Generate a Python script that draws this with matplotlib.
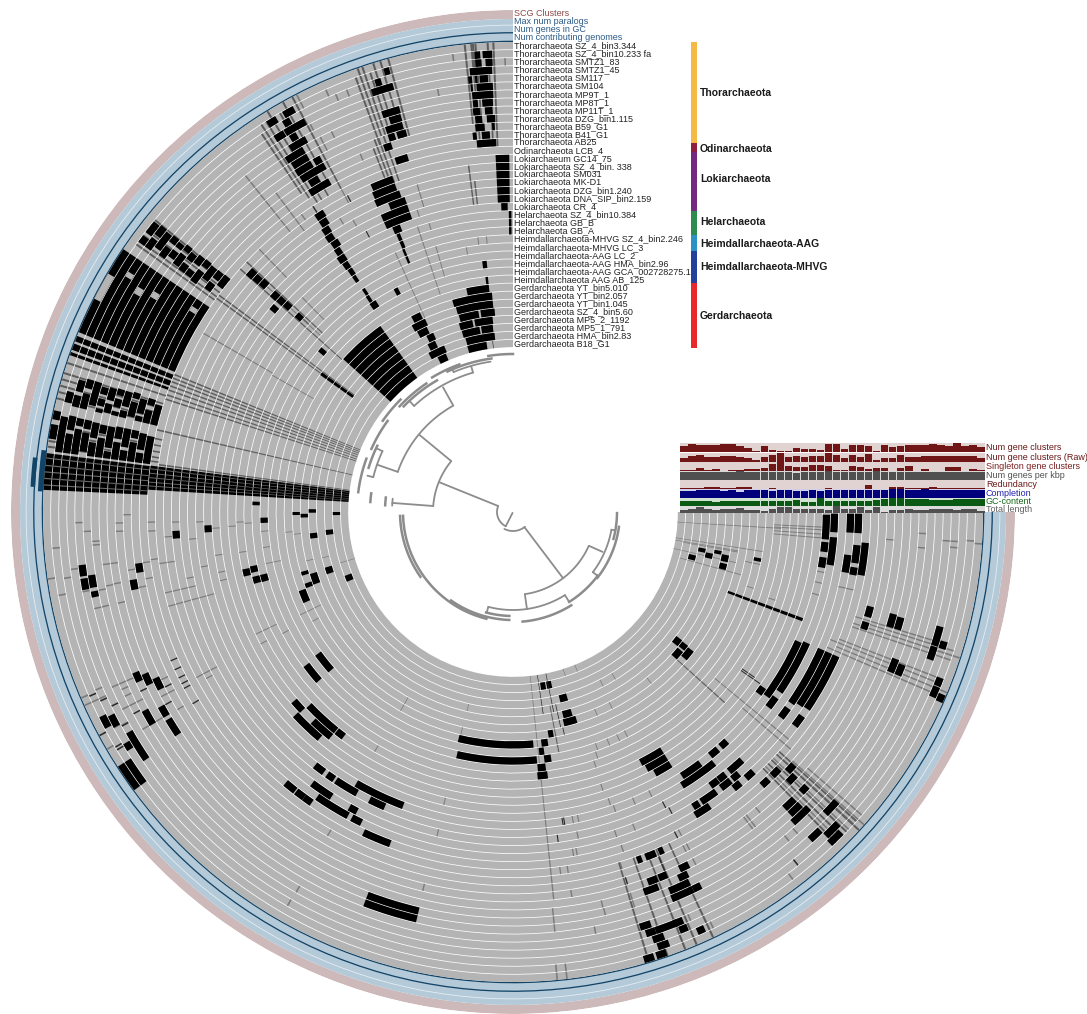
"""Pangenome ring figure: gene clusters around 38 genomes, with layer bars on the right."""
import numpy as np
import matplotlib
matplotlib.use('Agg')
import matplotlib.pyplot as plt

plt.rcParams['font.family'] = ['Liberation Sans', 'DejaVu Sans']

W, H = 1087, 1014
CX, CY, RMAX = 513, 512, 502
SWEEP = 270.0
ROW_TOP = 470.0
ROW_STEP = 8.05

# --- genomes (outer ring first) ---
genomes = [
    'Thorarchaeota SZ_4_bin3.344', 'Thorarchaeota SZ_4_bin10.233 fa', 'Thorarchaeota SMTZ1_83',
    'Thorarchaeota SMTZ1_45', 'Thorarchaeota SM117', 'Thorarchaeota SM104', 'Thorarchaeota MP9T_1',
    'Thorarchaeota MP8T_1', 'Thorarchaeota MP11T_1', 'Thorarchaeota DZG_bin1.115', 'Thorarchaeota B59_G1',
    'Thorarchaeota B41_G1', 'Thorarchaeota AB25', 'Odinarchaeota LCB_4', 'Lokiarchaeum GC14_75',
    'Lokiarchaeota SZ_4_bin. 338', 'Lokiarchaeota SM031', 'Lokiarchaeota MK-D1', 'Lokiarchaeota DZG_bin1.240',
    'Lokiarchaeota DNA_SIP_bin2.159', 'Lokiarchaeota CR_4', 'Helarchaeota SZ_4_bin10.384', 'Helarchaeota GB_B',
    'Helarchaeota GB_A', 'Heimdallarchaeota-MHVG SZ_4_bin2.246', 'Heimdallarchaeota-MHVG LC_3',
    'Heimdallarchaeota-AAG LC_2', 'Heimdallarchaeota-AAG HMA_bin2.96', 'Heimdallarchaeota-AAG GCA_002728275.1',
    'Heimdallarchaeota AAG AB_125', 'Gerdarchaeota YT_bin5.010', 'Gerdarchaeota YT_bin2.057',
    'Gerdarchaeota YT_bin1.045', 'Gerdarchaeota SZ_4_bin5.60', 'Gerdarchaeota MP5_2_1192',
    'Gerdarchaeota MP5_1_791', 'Gerdarchaeota HMA_bin2.83', 'Gerdarchaeota B18_G1',
]
ring_names = ['SCG Clusters', 'Max num paralogs', 'Num genes in GC', 'Num contributing genomes']

groups = ['Thorarchaeota', 'Odinarchaeota', 'Lokiarchaeota', 'Helarchaeota',
          'Heimdallarchaeota-AAG', 'Heimdallarchaeota-MHVG', 'Gerdarchaeota']
group_tops = [42, 143, 152, 211, 235, 251, 283]
group_bottoms = [143, 152, 211, 235, 251, 283, 348]
group_label_y = [93, 149, 179, 222, 244, 267, 316]
group_colors = ['#f5b945', '#8e1f3f', '#742a80', '#2e8b4f', '#2a93c4', '#263f9a', '#e8282a']

# --- presence blocks: (first row, last row, start deg, end deg), degrees ccw from north ---
thor_top = [
    (1, 1, 4.1, 4.8), (1, 1, 2.6, 3.8), (2, 2, 4.0, 4.8), (2, 2, 2.6, 3.5), (3, 3, 2.7, 5.6),
    (4, 4, 5.4, 5.9), (4, 4, 4.7, 5.0), (4, 4, 3.3, 4.4), (5, 5, 5.4, 5.7), (5, 5, 2.7, 4.9),
    (6, 6, 2.7, 5.6), (7, 7, 4.9, 5.6), (7, 7, 2.8, 4.3), (8, 8, 4.7, 5.7), (8, 8, 2.9, 4.0),
    (9, 9, 4.5, 5.5), (9, 9, 2.6, 3.8), (10, 10, 4.2, 5.6), (10, 10, 2.7, 3.1), (11, 11, 5.5, 6.1),
    (11, 11, 3.5, 4.7), (12, 12, 2.6, 5.6),
    (3, 3, 15.7, 18.6), (2, 2, 17.0, 17.8), (1, 1, 15.6, 16.3), (6, 6, 15.7, 18.2), (7, 7, 15.8, 17.5),
    (8, 8, 15.9, 18.4), (9, 9, 17.4, 18.4), (9, 9, 15.7, 17.1), (10, 10, 18.3, 19.5), (12, 12, 16.5, 18.5),
    (1, 1, 28.5, 30.0), (1, 1, 31.0, 32.3), (3, 3, 28.0, 31.0), (3, 3, 31.1, 32.5), (5, 5, 29.0, 31.5),
    (6, 6, 30.0, 32.8), (7, 7, 30.0, 32.5), (8, 8, 30.0, 32.6), (8, 8, 28.5, 29.6), (9, 9, 28.5, 32.5),
    (11, 11, 29.0, 32.5), (10, 10, 30.2, 31.8), (4, 4, 29.8, 30.8), (2, 2, 29.6, 30.6),
]
loki_top = [
    (14, 19, 0.6, 2.8), (20, 20, 1.0, 2.2), (21, 23, 0.3, 0.8),
    (14, 14, 19.8, 23.5), (15, 15, 19.8, 23.8), (16, 16, 19.5, 24.0), (17, 17, 19.0, 22.0),
    (18, 18, 19.0, 24.0), (19, 19, 19.0, 24.0), (20, 20, 21.5, 23.0), (21, 22, 22.1, 22.8), (23, 24, 22.4, 22.9),
    (14, 14, 32.2, 33.8), (15, 15, 32.4, 33.8), (16, 16, 32.8, 34.2), (17, 17, 33.0, 34.4), (18, 18, 32.7, 34.2),
    (19, 19, 33.2, 34.4), (20, 20, 33.2, 34.8), (21, 21, 33.4, 34.6), (22, 22, 33.4, 34.4), (23, 23, 33.6, 34.4),
    (25, 25, 33.5, 34.2), (26, 26, 33.6, 34.4), (27, 27, 6.0, 7.0), (27, 27, 27.2, 28.2), (27, 27, 33.0, 34.6),
    (29, 30, 6.1, 6.7), (19, 19, 49.0, 50.2), (27, 27, 49.3, 50.5),
    (14, 14, 46.9, 48.4), (15, 15, 47.0, 48.3), (16, 16, 46.8, 48.2), (18, 18, 47.0, 48.4), (19, 19, 47.0, 48.3),
    (20, 20, 46.9, 48.2), (22, 22, 47.0, 48.2), (29, 33, 53.8, 54.6),
]
gerd_top = [
    (30, 30, 6.6, 11.8), (31, 31, 5.5, 16.0), (32, 32, 5.5, 15.6), (33, 33, 5.2, 9.2), (33, 33, 9.8, 15.4),
    (34, 34, 6.0, 11.4), (34, 34, 12.0, 16.0), (35, 35, 6.2, 9.8), (35, 35, 10.3, 15.8), (36, 36, 5.9, 15.3),
    (37, 37, 8.9, 15.4),
    (32, 32, 24.5, 28.5), (33, 33, 25.0, 28.0), (34, 34, 24.0, 26.2), (31, 31, 25.0, 27.5), (35, 35, 24.5, 27.0),
    (36, 36, 22.5, 28.0), (37, 37, 23.0, 26.0), (30, 37, 35.5, 48.0),
]
core_upper = [
    (1, 1, 51.0, 52.7), (1, 1, 53.2, 54.2), (2, 2, 50.8, 52.2), (2, 2, 52.7, 54.2), (3, 3, 51.0, 53.5),
    (4, 4, 50.8, 51.8), (4, 4, 52.5, 54.0), (5, 5, 51.0, 51.8), (5, 5, 52.3, 53.4), (6, 6, 50.6, 51.5),
    (6, 6, 52.0, 53.8), (7, 7, 51.0, 52.2), (7, 7, 52.8, 54.0), (8, 8, 50.6, 52.0), (8, 8, 53.0, 54.0),
    (9, 9, 50.5, 51.6), (9, 9, 52.3, 54.3), (10, 10, 50.7, 53.0), (11, 11, 50.6, 52.0), (11, 11, 52.7, 54.0),
    (12, 12, 50.5, 52.5),
    (0, 12, 56.0, 67.5),
    (0, 12, 68.0, 68.7), (0, 12, 69.0, 69.8), (0, 12, 70.1, 70.5),
]
core_left = [
    (1, 1, 74.8, 76.2), (2, 2, 73.0, 74.5), (2, 2, 75.0, 76.5), (3, 3, 72.6, 73.8), (3, 3, 74.5, 76.5),
    (4, 4, 72.6, 75.8), (5, 5, 73.0, 74.0), (5, 5, 74.6, 75.6), (5, 5, 76.0, 76.5), (6, 6, 72.8, 74.5),
    (6, 6, 75.0, 76.3), (7, 7, 72.6, 73.5), (7, 7, 74.0, 75.2), (7, 7, 75.8, 76.4), (8, 8, 72.6, 74.8),
    (8, 8, 75.4, 76.4), (9, 9, 72.4, 73.3), (9, 9, 73.8, 76.0), (10, 10, 73.0, 75.2), (10, 10, 75.6, 76.4),
    (11, 11, 72.6, 73.6), (11, 11, 74.4, 76.4), (12, 12, 73.2, 76.4),
    (0, 0, 77.5, 78.6), (0, 0, 79.2, 81.0), (1, 1, 78.0, 82.5), (2, 2, 77.7, 79.5), (2, 2, 80.0, 82.5),
    (3, 3, 77.8, 78.8), (3, 3, 79.2, 82.5), (4, 4, 77.8, 79.0), (4, 4, 79.5, 82.0), (5, 5, 77.9, 80.0),
    (5, 5, 80.6, 82.5), (6, 6, 78.0, 79.2), (6, 6, 79.8, 82.5), (7, 7, 78.0, 81.0), (7, 7, 81.5, 82.5),
    (8, 8, 77.8, 79.5), (8, 8, 80.0, 82.5), (9, 9, 77.8, 80.5), (9, 9, 81.0, 82.5), (10, 10, 77.8, 79.0),
    (10, 10, 79.6, 82.5), (11, 11, 78.0, 80.5), (11, 11, 81.0, 82.5), (12, 12, 78.2, 82.5),
    (0, 12, 82.8, 87.3), (13, 37, 82.7, 86.5),
    (31, 31, 90.0, 90.8), (32, 32, 90.5, 91.5), (33, 33, 89.2, 90.2), (36, 36, 90.0, 91.0), (26, 26, 87.7, 88.5),
]
low_left = [
    (4, 4, 97.0, 98.5), (4, 4, 98.8, 100.3), (5, 5, 98.5, 100.2), (5, 5, 100.7, 101.5), (11, 11, 97.8, 99.2),
    (10, 10, 100.1, 101.6), (16, 16, 93.2, 94.5), (20, 20, 92.5, 93.8), (27, 27, 91.3, 92.5), (33, 33, 96.0, 97.5),
    (35, 35, 95.5, 97.0), (24, 24, 102.0, 103.5), (25, 25, 101.7, 103.1), (25, 25, 104.0, 105.5),
    (26, 26, 104.0, 105.6), (31, 31, 105.8, 106.8), (32, 32, 107.0, 110.0), (31, 31, 109.0, 110.2),
    (34, 34, 106.5, 108.5), (30, 30, 110.3, 113.5), (36, 36, 110.8, 112.8),
    (7, 7, 113.0, 114.4), (8, 8, 113.7, 115.4), (9, 9, 114.9, 116.7), (6, 6, 118.3, 120.5), (8, 8, 118.9, 120.5),
    (8, 8, 121.0, 123.6), (1, 1, 116.4, 118.0), (2, 2, 116.8, 118.4), (3, 3, 119.8, 124.0), (2, 2, 120.8, 121.8),
    (0, 1, 122.8, 126.3),
    (26, 26, 126.5, 131.0), (28, 28, 126.0, 131.0),
]
low_mid = [
    (22, 22, 130.8, 133.3), (21, 21, 133.0, 139.5), (23, 23, 133.5, 141.0), (22, 22, 136.3, 141.0),
    (23, 23, 141.2, 143.0), (18, 18, 142.0, 144.0), (18, 18, 144.7, 146.2), (18, 18, 146.6, 151.0),
    (19, 19, 150.0, 159.5), (16, 16, 143.5, 147.5), (15, 15, 145.5, 151.5), (14, 14, 140.0, 142.0),
    (14, 14, 142.2, 143.8), (14, 14, 143.8, 145.3), (16, 16, 151.0, 152.5), (15, 15, 152.2, 154.0),
    (18, 18, 153.5, 156.5), (14, 14, 155.0, 159.7), (6, 7, 159.2, 166.7),
    (29, 29, 166.5, 185.0), (27, 27, 167.0, 185.5),
    (36, 36, 189.0, 190.6), (36, 36, 191.0, 192.6), (34, 34, 194.0, 196.3), (32, 32, 193.8, 196.3),
    (31, 31, 193.5, 197.0), (30, 30, 189.0, 190.3), (29, 29, 187.0, 188.6), (28, 28, 186.2, 187.4),
    (27, 27, 187.2, 188.8), (26, 26, 185.5, 187.3), (25, 25, 185.3, 187.5),
]
low_right = [
    (23, 23, 207.0, 212.0), (22, 22, 207.5, 212.0), (21, 21, 208.5, 212.0),
    (19, 19, 212.6, 216.7), (18, 18, 211.7, 218.7), (19, 19, 219.0, 220.8), (19, 19, 221.5, 223.0),
    (16, 16, 215.8, 217.4), (16, 16, 217.5, 219.0), (15, 15, 217.0, 219.0), (16, 16, 219.8, 221.4),
    (16, 16, 221.3, 222.7), (15, 15, 219.4, 220.8), (14, 14, 218.6, 220.0), (14, 14, 221.2, 222.8),
    (15, 15, 213.0, 216.0), (15, 15, 211.4, 212.6), (14, 14, 211.0, 213.8),
    (12, 12, 222.3, 223.7), (12, 12, 224.5, 226.0), (11, 11, 226.6, 228.0), (10, 10, 225.5, 227.0),
    (8, 8, 225.8, 227.0), (8, 8, 222.5, 224.4), (7, 7, 222.5, 224.5), (6, 6, 222.0, 225.0), (4, 4, 226.0, 228.2),
    (3, 3, 222.2, 224.0), (2, 2, 224.0, 226.2), (1, 1, 223.7, 225.7),
    (12, 12, 201.0, 202.7), (12, 12, 199.6, 200.4), (12, 12, 203.2, 204.0), (9, 9, 205.0, 206.5),
    (8, 8, 204.3, 205.8), (9, 9, 200.0, 201.5), (9, 9, 201.7, 203.0), (8, 8, 199.0, 201.2), (7, 7, 202.4, 204.0),
    (7, 7, 203.9, 205.5), (6, 6, 205.5, 206.7), (6, 6, 202.3, 205.5), (4, 4, 197.0, 198.5), (3, 3, 197.5, 198.8),
    (3, 3, 198.8, 201.8), (3, 3, 201.3, 202.6), (2, 2, 201.7, 202.8), (1, 1, 203.7, 204.7), (2, 2, 198.1, 199.6),
    (1, 1, 198.4, 199.9), (0, 0, 196.3, 197.6), (0, 0, 197.9, 199.2),
]
right_side = [
    (19, 19, 265.0, 269.5), (18, 18, 266.4, 269.7), (16, 16, 266.5, 269.7), (15, 15, 266.5, 269.7),
    (19, 19, 262.7, 264.5), (19, 19, 259.8, 261.7), (18, 18, 260.5, 265.5), (16, 16, 259.7, 262.7),
    (15, 15, 261.5, 264.5), (15, 15, 259.5, 260.8), (14, 14, 259.7, 265.0),
    (12, 12, 253.5, 255.2), (12, 12, 251.5, 252.7), (9, 9, 253.0, 255.0), (8, 8, 253.0, 254.8),
    (3, 3, 252.4, 255.0), (2, 2, 252.3, 253.3), (3, 3, 250.5, 252.3), (1, 1, 247.7, 248.8), (7, 7, 247.0, 249.0),
    (6, 6, 247.0, 248.6), (1, 1, 246.2, 247.6), (0, 0, 246.0, 247.0),
    (19, 19, 234.0, 245.6), (18, 18, 236.0, 246.0), (16, 16, 235.5, 246.0), (15, 15, 236.0, 246.0),
    (14, 14, 236.2, 246.0),
    (20, 20, 233.5, 235.0), (18, 18, 232.6, 234.8), (16, 16, 232.5, 234.5), (14, 14, 232.8, 234.8),
    (32, 32, 230.8, 232.8), (31, 31, 231.0, 232.6), (31, 31, 228.0, 230.5), (30, 30, 229.5, 232.3),
    (35, 35, 255.0, 256.6), (34, 34, 258.0, 259.2), (33, 33, 256.7, 258.2), (32, 32, 258.4, 259.4),
    (31, 31, 256.8, 258.6), (31, 31, 254.7, 256.3), (27, 27, 258.6, 259.4), (20, 29, 249.3, 249.9),
]
# light patches inside the solid core block
core_gaps = [(0, 0, 59.5, 63.0), (2, 2, 58.0, 58.7), (4, 4, 59.0, 60.0), (6, 6, 58.4, 59.3), (11, 11, 57.3, 58.1)]

# --- single gene-cluster columns: (first row, last row, deg) ---
dark_cols = [
    (37, 37, 6.8), (14, 14, 27.6), (19, 19, 27.6), (13, 13, 33.2),
    (17, 17, 187.8), (19, 19, 189.1), (19, 19, 189.4), (1, 1, 121.0), (1, 1, 120.6), (0, 0, 118.4), (3, 3, 115.8),
    (2, 2, 114.6), (1, 1, 113.5), (7, 7, 115.7), (9, 9, 119.0), (10, 10, 116.7), (3, 3, 118.7), (5, 5, 118.0),
    (12, 12, 113.5), (12, 12, 115.0), (12, 12, 116.4), (12, 12, 117.4), (12, 12, 118.2), (12, 12, 120.9),
    (33, 37, 188.5), (33, 37, 191.5), (31, 33, 192.5), (30, 30, 193.0),
    (22, 23, 235.6), (21, 23, 235.2), (10, 11, 202.9), (17, 17, 207.3), (10, 10, 197.1), (16, 16, 207.8),
    (13, 13, 206.8), (2, 2, 218.9),
]
# fuzzy columns around the clusters, drawn under the black blocks
soft_cols = [
    (0, 12, 2.4), (0, 12, 3.1), (0, 12, 4.6), (0, 12, 5.1), (0, 9, 5.9), (0, 4, 4.9), (15, 19, 7.3), (17, 19, 6.6),
    (0, 9, 15.4), (0, 9, 16.4), (0, 8, 17.3), (1, 8, 18.0), (0, 8, 18.7), (0, 8, 19.3), (1, 9, 19.9), (9, 14, 19.8),
    (9, 13, 20.4), (9, 14, 19.0), (10, 13, 21.0),
    (0, 12, 28.0), (0, 11, 29.3), (1, 12, 30.3), (0, 12, 31.5), (1, 12, 32.3), (1, 11, 33.0), (2, 10, 33.6),
    (1, 12, 50.8), (1, 12, 51.6), (1, 12, 52.4), (1, 12, 53.2), (1, 12, 54.0), (1, 12, 54.6),
    (0, 12, 71.5), (0, 12, 72.8), (0, 12, 73.6), (0, 12, 74.4), (0, 12, 75.2), (0, 12, 76.0),
    (0, 13, 78.4), (0, 13, 79.4), (0, 13, 80.4), (0, 13, 81.3), (0, 13, 82.0),
    (13, 37, 67.9), (13, 37, 68.5), (13, 37, 69.1), (13, 37, 69.8), (13, 37, 70.5), (13, 37, 71.3), (13, 37, 72.0),
    (13, 37, 77.0), (14, 37, 82.4), (13, 33, 54.2), (13, 33, 53.6), (13, 29, 48.3), (13, 25, 46.8), (23, 23, 47.4),
    (0, 12, 196.8), (0, 12, 199.2), (0, 12, 201.5), (0, 12, 203.0), (0, 12, 205.2),
    (1, 13, 224.3), (1, 13, 225.4), (1, 13, 226.2), (0, 13, 227.4), (1, 13, 228.0),
    (23, 30, 228.0), (28, 33, 190.8),
]
# thin grey stripes that cut through the solid core band
band_stripes = [
    (0, 12, 83.4), (0, 12, 84.3), (0, 12, 85.1), (0, 12, 85.9), (0, 12, 86.7),
    (13, 37, 83.2), (13, 37, 83.9), (13, 37, 84.6), (13, 37, 85.3), (13, 37, 85.9),
]
grey_cols = [
    (1, 1, 7.5), (5, 5, 10.1), (2, 2, 1.0), (1, 1, 23.9), (2, 2, 23.0), (2, 2, 21.5), (0, 1, 27.4), (4, 4, 27.6),
    (6, 6, 25.5), (6, 7, 27.2), (10, 10, 23.1), (13, 14, 28.0), (16, 16, 30.5), (17, 17, 28.7), (13, 13, 35.4),
    (13, 15, 33.2), (16, 18, 16.3), (19, 19, 17.6), (21, 21, 16.2), (24, 24, 7.3), (24, 24, 5.5), (25, 25, 10.0),
    (24, 27, 16.2), (21, 29, 18.5), (23, 31, 24.4), (5, 13, 38.5), (9, 14, 36.6), (14, 23, 60.0), (24, 29, 60.4),
    (13, 17, 44.0), (15, 25, 47.5), (21, 24, 44.5),
    (4, 4, 91.4), (5, 5, 92.6), (9, 9, 91.6), (9, 9, 92.8), (13, 13, 91.6), (13, 13, 93.0), (10, 10, 90.4),
    (15, 15, 94.1), (16, 16, 91.7), (18, 18, 94.8), (19, 19, 91.8), (21, 21, 93.1), (23, 23, 92.9), (24, 24, 92.1),
    (25, 25, 92.4), (27, 27, 94.4), (30, 30, 95.1), (31, 31, 95.8), (6, 6, 94.0), (6, 6, 94.5), (1, 1, 94.5),
    (3, 3, 97.4), (10, 10, 98.6), (12, 12, 97.8), (13, 13, 97.5), (14, 14, 98.3), (15, 15, 98.3), (7, 7, 97.3),
    (8, 8, 97.3), (0, 0, 98.2), (2, 2, 98.4), (1, 1, 100.4), (4, 4, 100.5), (6, 6, 100.7), (7, 7, 100.3),
    (8, 8, 100.2), (5, 6, 103.0), (8, 8, 103.0), (11, 11, 101.4), (12, 12, 100.3), (14, 17, 103.1), (14, 19, 105.3),
    (17, 17, 101.5), (21, 21, 101.6), (21, 21, 103.2), (19, 19, 100.0), (21, 21, 98.3), (24, 24, 98.4),
    (27, 27, 98.1), (27, 28, 101.8), (32, 32, 103.3), (34, 34, 103.5), (36, 37, 106.4), (29, 31, 115.8),
    (30, 30, 118.6), (23, 25, 115.4), (26, 26, 117.8), (23, 23, 117.6),
    (4, 6, 113.6), (5, 5, 114.4), (5, 5, 115.4), (0, 0, 113.3), (2, 2, 113.1), (0, 2, 114.3), (4, 6, 116.8),
    (10, 10, 115.5), (9, 10, 117.7), (10, 10, 120.5), (14, 16, 117.6), (15, 15, 118.5), (0, 0, 120.3), (3, 3, 118.6),
    (2, 2, 118.4), (5, 7, 120.4),
    (33, 33, 167.0), (30, 30, 166.8), (21, 21, 166.7), (17, 17, 166.8), (10, 10, 166.6), (30, 31, 150.5),
    (24, 24, 150.0), (12, 12, 150.2), (4, 4, 150.3), (2, 2, 150.2), (6, 8, 185.7), (0, 1, 185.4), (0, 1, 186.6),
    (10, 37, 186.0), (13, 13, 187.5), (13, 13, 188.7), (10, 10, 188.7), (19, 19, 191.0), (19, 19, 192.0),
    (17, 17, 191.3), (15, 15, 190.0), (15, 15, 190.6), (26, 26, 199.0),
    (37, 37, 197.7), (37, 37, 202.0), (34, 34, 207.4), (34, 34, 211.5), (31, 31, 218.9), (31, 31, 202.5),
    (31, 31, 206.8), (27, 27, 199.6), (27, 27, 202.5), (27, 27, 205.0), (27, 27, 207.0), (25, 25, 198.0),
    (22, 22, 197.9), (20, 20, 198.4), (19, 19, 198.9), (19, 19, 202.7), (19, 19, 206.0), (13, 13, 207.5),
    (16, 16, 197.7), (16, 16, 201.0), (11, 11, 207.0), (11, 11, 207.6), (14, 14, 198.0), (9, 9, 207.4),
    (12, 12, 197.0), (7, 8, 197.1), (8, 8, 192.8), (7, 7, 192.9), (5, 5, 191.1), (1, 1, 205.7), (3, 3, 203.5),
    (9, 10, 217.1), (9, 10, 217.6), (10, 10, 219.4), (5, 5, 221.5), (5, 5, 220.0), (1, 1, 217.3),
    (2, 13, 224.8), (1, 13, 226.6), (1, 12, 227.5), (0, 11, 228.3), (1, 9, 229.0), (14, 25, 230.5), (13, 20, 229.5),
    (25, 37, 266.5), (20, 25, 265.2), (20, 25, 265.9), (20, 25, 266.7), (20, 25, 267.2), (7, 7, 267.0), (3, 4, 266.2),
    (1, 1, 266.4), (0, 0, 266.1), (7, 7, 265.0), (11, 11, 265.8), (3, 3, 265.4), (19, 19, 259.0), (19, 19, 257.0),
    (19, 19, 254.8), (16, 16, 259.8), (16, 16, 257.1), (15, 15, 257.1), (27, 27, 252.4), (24, 24, 251.4),
    (27, 28, 258.0), (1, 13, 251.3), (0, 13, 251.9), (1, 12, 252.5), (2, 13, 253.0),
    (1, 15, 246.7), (0, 14, 247.4), (1, 15, 248.1), (2, 14, 248.7), (27, 37, 261.0), (30, 37, 260.2), (30, 37, 257.2),
    (30, 36, 259.9), (29, 36, 254.6),
]

# --- tree: arcs (radius, start deg, end deg) and stems (deg, inner radius, outer radius) ---
tree_arcs = [
    (16, 68, 153), (19, 153, 218.7), (80, 50.7, 85.7), (122, 29.5, 70.8), (145, 16, 43), (152, 8.5, 23),
    (144, 65, 76), (121, 83.7, 87), (83, 188.3, 245.6), (100, 233, 259.8), (98, 165.4, 212),
]
tree_stems = [
    (68, 16, 79), (153, 1, 16), (50.5, 80, 121), (29.3, 122, 143), (16, 145, 151), (70.8, 122, 144), (85.7, 80, 121),
    (217.1, 19, 83), (246, 83, 98), (188.2, 83, 98), (165.4, 98, 104), (212, 98, 106), (233, 100, 106),
    (259.8, 100, 104), (65, 144, 150), (76, 144, 150), (23, 152, 155), (43, 145, 152),
]
fuzz_arcs = [
    (158, 0, 9), (155, 8, 25), (157, 20, 31), (152, 30, 46), (155, 34, 47), (159, 45, 55), (155, 54, 66),
    (151, 64, 73), (156, 70, 82.7), (128, 83.5, 87), (143, 82.5, 86), (104, 165, 178), (110, 92, 166), (113, 92, 125),
    (108, 145, 178), (106, 212, 233), (110, 185, 212), (107, 232, 262), (104, 255, 269.4),
]

# --- layer bars on the right: one value per genome, innermost genome first, 0-1 of the strip ---
num_gene_clusters = [.65, .9, .85, .85, .8, .95, .98, .65, .5, .15, .65, .25, .15, .15, .45, .4, .4, .2, .95,
                     .92, .3, .85, .85, .65, .1, .8, .6, .75, .85, .85, .85, .95, .8, .7, 1, .7, .85, .6]
num_gene_clusters_raw = [.5, .65, .8, .6, .6, .65, .75, .55, .45, .25, .6, .8, 1, .55, .65, .6, .7, .75, 1,
                         .8, .45, .8, .6, .9, .25, .45, .45, .8, .55, .55, .65, .75, .75, .7, .7, .65, .75, .45]
singletons = [.1, .1, .35, .1, .2, .05, .15, .15, .2, .2, .35, .85, 1, .55, .5, .5, .7, .75, .55,
              .1, .1, .55, .5, .2, .35, .3, .05, .3, .6, .0, .2, .05, .0, .45, .5, .05, .2, .15]
genes_per_kbp = [.9, .9, .92, .92, .88, .9, .9, 1, .95, .95, .95, .95, .9, .95, .85, .9, .9, .9, 1,
                 .95, .9, .95, .9, .95, 1, .9, .9, .9, .95, .9, .9, .92, .9, .9, .92, .92, .9, .92]
redundancy = [.15, .15, .12, .2, .2, .12, .12, .2, .2, .05, .05, .08, .05, .05, .05, .05, .05, .05, .15,
              .05, .05, .05, .05, .5, .05, .05, .18, .22, .12, .1, .12, .2, .12, .1, .12, .12, .1, .08]
completion = [.85, .85, .92, .92, .9, .78, .95, .75, .92, .92, .95, .85, .95, .9, .85, .85, .95, .8, .92,
              .92, .92, .92, .92, .92, .95, .92, 1, 1, .92, .92, 1, .95, .92, .95, .95, .92, .92, .92]
gc_content = [.7, .7, .7, .6, .55, .6, .6, .6, .6, .6, .6, .6, .7, .7, .8, .5, .55, 1, .65,
              .6, .6, .6, .6, .6, .75, .9, 1, 1, .9, .9, .9, .85, .85, .8, .95, .9, .9, .9]
total_length = [.45, .55, .85, .55, .5, .55, .6, .75, .4, .5, .25, .6, .95, .95, .55, .65, .55, .65, .5,
                1, .55, .6, .85, .5, .95, .15, .4, .4, .65, .5, .5, .65, .65, .6, .5, .55, .55, .35]
layer_names = ['Num gene clusters', 'Num gene clusters (Raw)', 'Singleton gene clusters', 'Num genes per kbp',
               'Redundancy', 'Completion', 'GC-content', 'Total length']
layer_values = [num_gene_clusters, num_gene_clusters_raw, singletons, genes_per_kbp,
                redundancy, completion, gc_content, total_length]
layer_colors = ['#701616', '#701616', '#701616', '#505050', '#701616', '#00007d', '#0a5a14', '#505050']
layer_bgs = ['#e2d3d3', '#e2d3d3', '#e2d3d3', '#d8d8d8', '#e2d3d3', '#cfcfec', '#d2e2d2', '#dcdcdc']
layer_text = ['#6a1818', '#6a1818', '#7a2020', '#505050', '#6a1818', '#2222b0', '#156a1a', '#606060']
layer_tops = [443, 453, 462, 471, 480, 489, 498, 506]
layer_bottoms = [452, 462, 471, 480, 489, 498, 506, 513]

fig = plt.figure(figsize=(W / 100, H / 100), dpi=100, facecolor='white')
ax = fig.add_axes([(CX - RMAX) / W, (H - CY - RMAX) / H, 2 * RMAX / W, 2 * RMAX / H], projection='polar')
ax.set_theta_zero_location('N')
ax.set_theta_direction(1)
ax.set_ylim(0, RMAX)
ax.axis('off')


def row_span(row):
    # radial bottom of a genome row and its height, a thin white line is left between rows
    return ROW_TOP - ROW_STEP * (row + 1) + 0.75, ROW_STEP - 0.75


def draw_blocks(blocks, color):
    th, wd, bt, ht = [], [], [], []
    for first, last, t1, t2 in blocks:
        for row in range(first, last + 1):
            b, h = row_span(row)
            th.append(np.radians(t1))
            wd.append(np.radians(t2 - t1))
            bt.append(b)
            ht.append(h)
    ax.bar(th, ht, width=wd, bottom=bt, align='edge', color=color, linewidth=0)


def draw_cols(cols, color, width=0.2):
    draw_blocks([(first, last, t - width / 2, t + width / 2) for first, last, t in cols], color)


# outer rings
ring_sweep = np.radians(SWEEP)
ax.bar(0, 9.0, width=ring_sweep, bottom=493, align='edge', color='#cdb9b9', linewidth=0)
ax.bar(0, 23.0, width=ring_sweep, bottom=470, align='edge', color='#b5cad8', linewidth=0)
ax.bar(0, 0.8, width=ring_sweep, bottom=486.5, align='edge', color='#e6eef3', linewidth=0)
ax.bar(0, 1.3, width=ring_sweep, bottom=470.0, align='edge', color='#124468', linewidth=0)
ax.bar(0, 1.3, width=ring_sweep, bottom=478.6, align='edge', color='#124468', linewidth=0)
ax.bar(np.radians(82.5), 5.5, width=np.radians(5), bottom=470, align='edge', color='#124468', linewidth=0)
ax.bar(np.radians(83.5), 4.5, width=np.radians(3.5), bottom=478.6, align='edge', color='#124468', linewidth=0)

# genome rows
draw_blocks([(r, r, 0, SWEEP) for r in range(len(genomes))], '#b4b4b4')
draw_cols(grey_cols, '#7a7a7a')
draw_cols(soft_cols, '#5c5c5c', width=0.25)
for blocks in [thor_top, loki_top, gerd_top, core_upper, core_left, low_left, low_mid, low_right, right_side]:
    draw_blocks(blocks, 'black')
draw_blocks(core_gaps, '#b4b4b4')
draw_cols(band_stripes, '#6a6a6a', width=0.15)
draw_cols(dark_cols, '#2a2a2a')

# tree
tree_kw = dict(color='#8c8c8c', lw=1.3, solid_capstyle='round')
for r, t1, t2 in tree_arcs:
    t = np.radians(np.linspace(t1, t2, 60))
    ax.plot(t, np.full_like(t, r), **tree_kw)
for t, r1, r2 in tree_stems:
    ax.plot(np.radians([t, t]), [r1, r2], **tree_kw)
for r, t1, t2 in fuzz_arcs:
    t = np.radians(np.linspace(t1, t2, 60))
    ax.plot(t, np.full_like(t, r), color='#8c8c8c', lw=1.8)

# text and group bars live in a pixel-sized overlay
over = fig.add_axes([0, 0, 1, 1], facecolor='none')
over.set_xlim(0, W)
over.set_ylim(H, 0)
over.axis('off')

for i, name in enumerate(genomes):
    over.text(514, 46 + ROW_STEP * i, name, fontsize=6.5, color='#222222', va='center', ha='left')
ring_y = [13.5, 22, 30, 38]
ring_colors = ['#8a4a4a', '#2c5a85', '#2c5a85', '#2c5a85']
for name, y, c in zip(ring_names, ring_y, ring_colors):
    over.text(514, y, name, fontsize=6.5, color=c, va='center', ha='left')

for name, top, bot, ly, c in zip(groups, group_tops, group_bottoms, group_label_y, group_colors):
    over.bar(694, bot - top, width=6, bottom=top, color=c, linewidth=0)
    over.text(700, ly, name, fontsize=7.5, fontweight='bold', color='#1a1a1a', va='center', ha='left')

# layer strips, each its own axes with a 0-1 scale
for name, vals, c, bg, tc, top, bot in zip(layer_names, layer_values, layer_colors, layer_bgs, layer_text,
                                           layer_tops, layer_bottoms):
    strip = fig.add_axes([680 / W, (H - bot) / H, 305 / W, (bot - top) / H], facecolor=bg)
    strip.bar(np.arange(len(vals)), vals, width=0.94, color=c, linewidth=0)
    strip.set_xlim(-0.5, len(vals) - 0.5)
    strip.set_ylim(0, 1.05)
    strip.set_xticks([])
    strip.set_yticks([])
    for s in strip.spines.values():
        s.set_visible(False)
    over.text(986, (top + bot) / 2, name, fontsize=6.5, color=tc, va='center', ha='left')

fig.savefig('out.png', dpi=100, facecolor='white')
